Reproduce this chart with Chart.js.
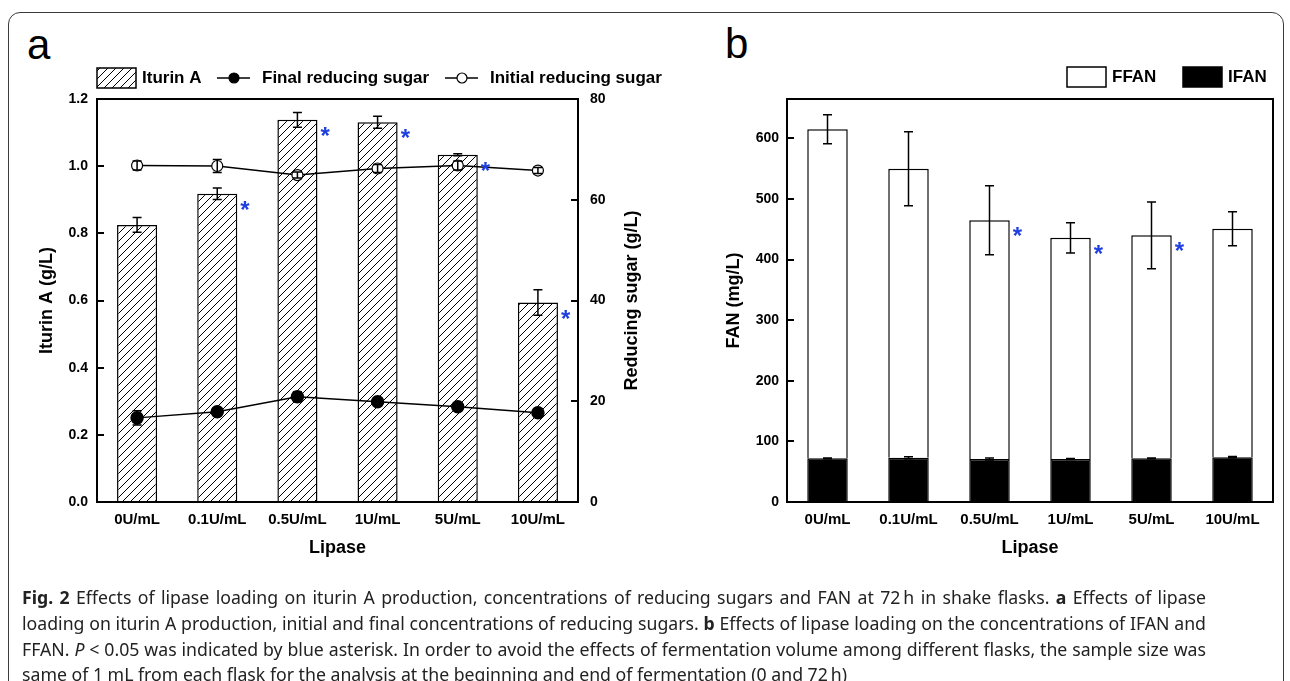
<!DOCTYPE html>
<html>
<head>
<meta charset="utf-8">
<script src="https://cdn.jsdelivr.net/npm/chart.js@4.4.1/dist/chart.umd.min.js"></script>
<style>
  html, body { margin: 0; padding: 0; background: #fff; }
  body { width: 1290px; height: 681px; position: relative; overflow: hidden; font-family: "Liberation Sans", Arial, sans-serif; }
  #frame { position: absolute; left: 8px; top: 12px; width: 1276px; height: 720px; border: 1.5px solid #3c3c3c; border-radius: 12px; box-sizing: border-box; }
  canvas { position: absolute; top: 0; }
  #chartA { left: 0; }
  #chartB { left: 700px; }
  .tag { position: absolute; font-size: 42px; line-height: 1; color: #000; }
  #caption { position: absolute; left: 22px; top: 585px; width: 1184px; font-family: "Noto Sans", "Open Sans", sans-serif; font-size: 17.7px; line-height: 25.8px; color: #222; white-space: nowrap; }
  #caption .j { text-align: justify; text-align-last: justify; }
</style>
</head>
<body>
<div id="frame"></div>
<div class="tag" style="left:27px; top:24px;">a</div>
<div class="tag" style="left:725px; top:23px;">b</div>
<canvas id="chartA" width="700" height="600"></canvas>
<canvas id="chartB" width="590" height="600"></canvas>
<div id="caption">
<div class="j"><b>Fig. 2</b> Effects of lipase loading on iturin A production, concentrations of reducing sugars and FAN at 72&#8201;h in shake flasks. <b>a</b> Effects of lipase</div>
<div class="j">loading on iturin A production, initial and final concentrations of reducing sugars. <b>b</b> Effects of lipase loading on the concentrations of IFAN and</div>
<div class="j">FFAN. <i>P</i> &lt; 0.05 was indicated by blue asterisk. In order to avoid the effects of fermentation volume among different flasks, the sample size was</div>
<div>same of 1 mL from each flask for the analysis at the beginning and end of fermentation (0 and 72&#8201;h)</div>
</div>
<script>
// categories
const lipase = ["0U/mL", "0.1U/mL", "0.5U/mL", "1U/mL", "5U/mL", "10U/mL"];

// panel a
const iturin = [0.825, 0.918, 1.138, 1.131, 1.034, 0.594];
const iturinErr = [0.022, 0.017, 0.022, 0.018, 0.003, 0.038];
const iturinSig = [false, true, true, true, true, true];
const finalSugar = [16.7, 17.9, 20.9, 19.9, 18.9, 17.7];
const finalSugarErr = [1.4, 0.5, 1.0, 0.6, 0.5, 0.4];
const initialSugar = [66.8, 66.7, 64.9, 66.2, 66.8, 65.8];
const initialSugarErr = [0.9, 1.3, 0.6, 0.8, 0.9, 0.6];
const iturinTicks = [0, 0.2, 0.4, 0.6, 0.8, 1.0, 1.2];
const sugarTicks = [0, 20, 40, 60, 80];

// panel b
const ifan = [72, 73, 71, 71, 72, 74];
const ifanErr = [0.5, 1.5, 1.5, 0.8, 0.8, 1];
const ffan = [543, 477, 394, 365, 368, 377];
const ffanErr = [24, 61, 57, 25, 55, 28];
const ffanSig = [false, false, true, true, true, false];
const fanTicks = [0, 100, 200, 300, 400, 500, 600];

Chart.defaults.font.family = '"Liberation Sans", Arial, sans-serif';
Chart.defaults.color = "#000";

const FONT = '"Liberation Sans", Arial, sans-serif';

// hatch fill for iturin bars
function makeHatch() {
  const c = document.createElement("canvas");
  c.width = 8;
  c.height = 8;
  const g = c.getContext("2d");
  g.fillStyle = "#fff";
  g.fillRect(0, 0, 8, 8);
  g.strokeStyle = "#000";
  g.lineWidth = 1;
  g.beginPath();
  g.moveTo(0, 8); g.lineTo(8, 0);
  g.moveTo(-1, 1); g.lineTo(1, -1);
  g.moveTo(7, 9); g.lineTo(9, 7);
  g.stroke();
  return g.createPattern(c, "repeat");
}
const hatch = makeHatch();

const errorBars = {
  id: "errorBars",
  afterDatasetsDraw(chart) {
    const ctx = chart.ctx;
    chart.data.datasets.forEach((ds, i) => {
      if (!ds.errors) return;
      const meta = chart.getDatasetMeta(i);
      const ys = chart.scales[meta.yAxisID];
      ctx.save();
      ctx.strokeStyle = "#000";
      ctx.lineWidth = 1.5;
      meta.data.forEach((el, j) => {
        const e = ds.errors[j];
        if (!e) return;
        const d = Math.abs(ys.getPixelForValue(e) - ys.getPixelForValue(0));
        const x = el.x, y = el.y, c = 4.5;
        ctx.beginPath();
        ctx.moveTo(x, y - d); ctx.lineTo(x, y + d);
        ctx.moveTo(x - c, y - d); ctx.lineTo(x + c, y - d);
        ctx.moveTo(x - c, y + d); ctx.lineTo(x + c, y + d);
        ctx.stroke();
      });
      ctx.restore();
    });
  },
};

// blue asterisks for P < 0.05
const stars = {
  id: "stars",
  afterDatasetsDraw(chart) {
    const ctx = chart.ctx;
    chart.data.datasets.forEach((ds, i) => {
      if (!ds.marks) return;
      const meta = chart.getDatasetMeta(i);
      ctx.save();
      ctx.fillStyle = "#1f3fe0";
      ctx.font = "bold 24px " + FONT;
      ctx.textAlign = "left";
      ctx.textBaseline = "alphabetic";
      meta.data.forEach((el, j) => {
        if (!ds.marks[j]) return;
        ctx.fillText("*", el.x + el.width / 2 + 3, el.y + 24);
      });
      ctx.restore();
    });
  },
};

const plotBox = {
  id: "plotBox",
  afterDraw(chart) {
    const a = chart.chartArea;
    const ctx = chart.ctx;
    ctx.save();
    ctx.strokeStyle = "#000";
    ctx.lineWidth = 2;
    ctx.strokeRect(a.left, a.top, a.right - a.left, a.bottom - a.top);
    ctx.restore();
  },
};

const legendRow = {
  id: "legendRow",
  afterDraw(chart, args, opts) {
    const ctx = chart.ctx;
    const y = opts.y;
    ctx.save();
    ctx.font = "bold 17px " + FONT;
    ctx.textBaseline = "middle";
    opts.items.forEach((it) => {
      const ds = chart.data.datasets[it.dataset];
      let tx;
      ctx.strokeStyle = "#000";
      ctx.lineWidth = 1.5;
      if (it.kind === "box") {
        ctx.fillStyle = ds.backgroundColor;
        ctx.fillRect(it.x, y - 10, 39, 20);
        ctx.strokeRect(it.x, y - 10, 39, 20);
        tx = it.x + 45;
      } else {
        ctx.beginPath();
        ctx.moveTo(it.x, y); ctx.lineTo(it.x + 33, y);
        ctx.stroke();
        ctx.beginPath();
        ctx.arc(it.x + 17, y, 5, 0, Math.PI * 2);
        ctx.fillStyle = ds.pointBackgroundColor;
        ctx.fill();
        ctx.lineWidth = 1.2;
        ctx.stroke();
        tx = it.x + 45;
      }
      ctx.fillStyle = "#000";
      ctx.fillText(ds.label, tx, y);
    });
    ctx.restore();
  },
};

const sideTitle = {
  id: "sideTitle",
  afterDraw(chart, args, opts) {
    if (!opts.text) return;
    const a = chart.chartArea;
    const ctx = chart.ctx;
    ctx.save();
    ctx.translate(opts.x, (a.top + a.bottom) / 2);
    ctx.rotate(-Math.PI / 2);
    ctx.font = "bold 18px " + FONT;
    ctx.fillStyle = "#000";
    ctx.textAlign = "center";
    ctx.textBaseline = "middle";
    ctx.fillText(opts.text, 0, 0);
    ctx.restore();
  },
};

const tickFont = { weight: "bold", size: 14 };
const titleFont = { weight: "bold", size: 18 };

function xAxis() {
  return {
    grid: { display: false, drawTicks: false },
    border: { color: "#000", width: 2 },
    ticks: { color: "#000", font: { weight: "bold", size: 15 }, padding: 9, maxRotation: 0, autoSkip: false },
    title: { display: true, text: "Lipase", color: "#000", font: titleFont, padding: { bottom: 41, top: 0 } },
    afterFit(s) { s.height = 98; },
  };
}

// panel a
new Chart(document.getElementById("chartA"), {
  type: "bar",
  data: {
    labels: lipase,
    datasets: [
      {
        type: "line", label: "Final reducing sugar", data: finalSugar, errors: finalSugarErr,
        yAxisID: "y1", borderColor: "#000", borderWidth: 1.5,
        pointRadius: 6, pointBackgroundColor: "#000", pointBorderColor: "#000", order: 1,
      },
      {
        type: "line", label: "Initial reducing sugar", data: initialSugar, errors: initialSugarErr,
        yAxisID: "y1", borderColor: "#000", borderWidth: 1.5,
        pointRadius: 5.5, pointBackgroundColor: "#fff", pointBorderColor: "#000", pointBorderWidth: 1.2, order: 1,
      },
      {
        type: "bar", label: "Iturin A", data: iturin, errors: iturinErr, marks: iturinSig,
        yAxisID: "y", backgroundColor: hatch, borderColor: "#000", borderWidth: 1.5,
        barPercentage: 0.5, categoryPercentage: 1, order: 2,
      },
    ],
  },
  options: {
    responsive: false,
    animation: false,
    devicePixelRatio: 1,
    layout: { padding: { top: 99, left: 0, right: 0, bottom: 0 } },
    plugins: {
      legend: { display: false },
      tooltip: { enabled: false },
      legendRow: {
        y: 78,
        items: [
          { dataset: 2, kind: "box", x: 97 },
          { dataset: 0, kind: "line", x: 217 },
          { dataset: 1, kind: "line", x: 445 },
        ],
      },
      sideTitle: { text: "Reducing sugar (g/L)", x: 632 },
    },
    scales: {
      x: xAxis(),
      y: {
        position: "left", min: 0, max: 1.2,
        afterBuildTicks(s) { s.ticks = iturinTicks.map((v) => ({ value: v })); },
        ticks: { color: "#000", font: tickFont, padding: 16, callback: (v) => v.toFixed(1) },
        grid: { drawOnChartArea: false, tickLength: -7, color: "#000", lineWidth: 2 },
        border: { color: "#000", width: 2 },
        title: { display: true, text: "Iturin A (g/L)", color: "#000", font: titleFont, padding: { top: 36, bottom: 0 } },
        afterFit(s) { s.width = 97; },
      },
      y1: {
        position: "right", min: 0, max: 80,
        afterBuildTicks(s) { s.ticks = sugarTicks.map((v) => ({ value: v })); },
        ticks: { color: "#000", font: tickFont, padding: 19 },
        grid: { drawOnChartArea: false, tickLength: -7, color: "#000", lineWidth: 2 },
        border: { color: "#000", width: 2 },
        afterFit(s) { s.width = 122; },
      },
    },
  },
  plugins: [errorBars, stars, plotBox, legendRow, sideTitle],
});

// panel b
new Chart(document.getElementById("chartB"), {
  type: "bar",
  data: {
    labels: lipase,
    datasets: [
      {
        label: "IFAN", data: ifan, errors: ifanErr,
        backgroundColor: "#000", borderColor: "#000", borderWidth: 1.5,
        barPercentage: 0.5, categoryPercentage: 1,
      },
      {
        label: "FFAN", data: ffan, errors: ffanErr, marks: ffanSig,
        backgroundColor: "#fff", borderColor: "#000", borderWidth: 1.5,
        barPercentage: 0.5, categoryPercentage: 1,
      },
    ],
  },
  options: {
    responsive: false,
    animation: false,
    devicePixelRatio: 1,
    layout: { padding: { top: 99, left: 0, right: 17, bottom: 0 } },
    plugins: {
      legend: { display: false },
      tooltip: { enabled: false },
      legendRow: {
        y: 77,
        items: [
          { dataset: 1, kind: "box", x: 367 },
          { dataset: 0, kind: "box", x: 483 },
        ],
      },
    },
    scales: {
      x: Object.assign(xAxis(), { stacked: true }),
      y: {
        stacked: true, position: "left", min: 0, max: 665,
        afterBuildTicks(s) { s.ticks = fanTicks.map((v) => ({ value: v })); },
        ticks: { color: "#000", font: tickFont, padding: 15 },
        grid: { drawOnChartArea: false, tickLength: -7, color: "#000", lineWidth: 2 },
        border: { color: "#000", width: 2 },
        title: { display: true, text: "FAN (mg/L)", color: "#000", font: titleFont, padding: { top: 23, bottom: 0 } },
        afterFit(s) { s.width = 87; },
      },
    },
  },
  plugins: [errorBars, stars, plotBox, legendRow],
});
</script>
</body>
</html>
